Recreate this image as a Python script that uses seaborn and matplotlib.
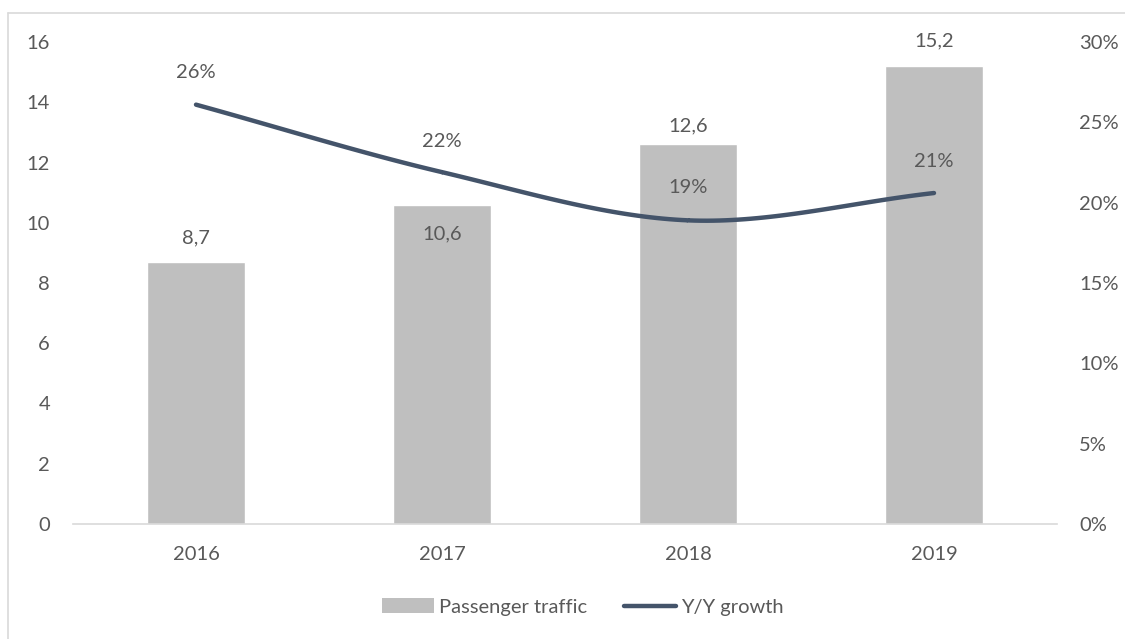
import numpy as np
import matplotlib
matplotlib.use("Agg")
import matplotlib.pyplot as plt
from matplotlib.patches import Patch
from matplotlib.lines import Line2D
import seaborn as sns

years = ["2016", "2017", "2018", "2019"]
traffic = [8.7, 10.6, 12.6, 15.2]
growth = [0.261, 0.219, 0.189, 0.206]
left_ticks = [0, 2, 4, 6, 8, 10, 12, 14, 16]
right_ticks = [0.0, 0.05, 0.10, 0.15, 0.20, 0.25, 0.30]

BAR = "#BFBFBF"
LINE = "#44546A"
TEXT = "#595959"
AXIS = "#D9D9D9"
FS = 14.5

sns.set_theme(style="white")
plt.rcParams["font.family"] = ["Lato", "DejaVu Sans"]

fig = plt.figure(figsize=(11.25, 6.39), dpi=100)
ax = fig.add_axes([73 / 1125, 1 - 524 / 639, 984 / 1125, 482 / 639])

sns.barplot(x=years, y=traffic, color=BAR, width=0.4, saturation=1, ax=ax)
ax.set_xlim(-0.5, 3.5)
ax.set_ylim(0, 16)
ax.set_yticks(left_ticks)
ax.set_yticklabels([str(t) for t in left_ticks])
ax.set_xlabel("")
ax.set_ylabel("")
for s in ["top", "right", "left"]:
    ax.spines[s].set_visible(False)
ax.spines["bottom"].set_color(AXIS)
ax.spines["bottom"].set_linewidth(1.2)
ax.tick_params(axis="both", length=0, labelsize=FS, colors=TEXT)
ax.tick_params(axis="y", pad=16.5)
ax.tick_params(axis="x", pad=16)

# bar value labels (decimal comma), offsets in points
bar_offsets = [17.5, -21, 13, 18]
for i, (v, off) in enumerate(zip(traffic, bar_offsets)):
    ax.annotate(f"{v:.1f}".replace(".", ","), (i, v), xytext=(0, off),
                textcoords="offset points", ha="center", va="center",
                fontsize=FS, color=TEXT)

# secondary axis with smoothed growth line
ax2 = ax.twinx()
ax2.set_ylim(0, 0.30)
ax2.set_yticks(right_ticks)
ax2.set_yticklabels([f"{t:.0%}" for t in right_ticks])
for s in ax2.spines.values():
    s.set_visible(False)
ax2.tick_params(axis="y", length=0, labelsize=FS, colors=TEXT, pad=16)


def catmull_rom(xs, ys, n=40):
    px = np.concatenate([[2 * xs[0] - xs[1]], xs, [2 * xs[-1] - xs[-2]]])
    py = np.concatenate([[2 * ys[0] - ys[1]], ys, [2 * ys[-1] - ys[-2]]])
    out_x, out_y = [], []
    for k in range(1, len(px) - 2):
        t = np.linspace(0, 1, n)
        for p, out in ((px, out_x), (py, out_y)):
            p0, p1, p2, p3 = p[k - 1], p[k], p[k + 1], p[k + 2]
            out.append(0.5 * ((2 * p1) + (-p0 + p2) * t
                              + (2 * p0 - 5 * p1 + 4 * p2 - p3) * t ** 2
                              + (-p0 + 3 * p1 - 3 * p2 + p3) * t ** 3))
    return np.concatenate(out_x), np.concatenate(out_y)


xs = np.arange(len(years), dtype=float)
sx, sy = catmull_rom(xs, np.array(growth))
ax2.plot(sx, sy, color=LINE, lw=3.2, solid_capstyle="round")

growth_offsets = [23.5, 22, 23.5, 23]
for i, (g, off) in enumerate(zip(growth, growth_offsets)):
    ax2.annotate(f"{g:.0%}", (i, g), xytext=(0, off), textcoords="offset points",
                 ha="center", va="center", fontsize=FS, color=TEXT)

handles = [Patch(facecolor=BAR, edgecolor="none"),
           Line2D([0], [0], color=LINE, lw=3.2, solid_capstyle="round")]
fig.legend(handles, ["Passenger traffic", "Y/Y growth"], loc="center",
           bbox_to_anchor=(583 / 1125, 1 - 607 / 639), ncol=2, frameon=False,
           fontsize=FS, labelcolor=TEXT, handlelength=2.6, handletextpad=0.25,
           columnspacing=1.8)

# chart frame edges
fig.add_artist(Line2D([8 / 1125, 8 / 1125], [0, 1 - 13 / 639], color=AXIS, lw=1.2))
fig.add_artist(Line2D([8 / 1125, 1], [1 - 13 / 639, 1 - 13 / 639], color=AXIS, lw=1.2))

fig.savefig("out.png", dpi=100, facecolor="white")
